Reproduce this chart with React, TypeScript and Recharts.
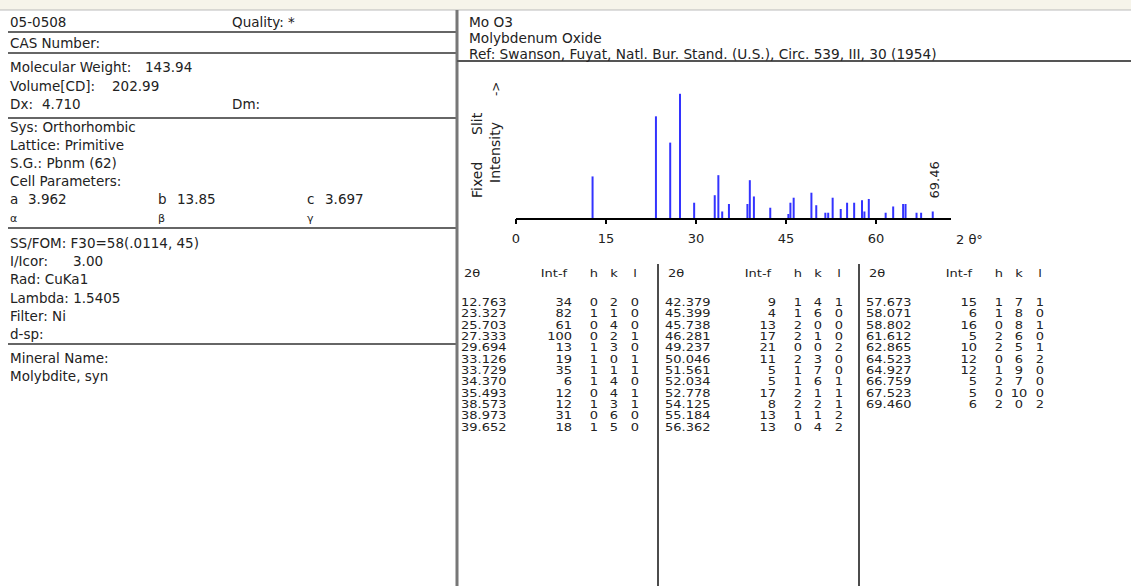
import { Bar, BarChart, LabelList, XAxis, YAxis } from 'recharts';

// Mo O3 powder pattern, card 05-0508
const twoTheta = [
  12.763, 23.327, 25.703, 27.333, 29.694, 33.126, 33.729, 34.37, 35.493, 38.573, 38.973, 39.652,
  42.379, 45.399, 45.738, 46.281, 49.237, 50.046, 51.561, 52.034, 52.778, 54.125, 55.184, 56.362,
  57.673, 58.071, 58.802, 61.612, 62.865, 64.523, 64.927, 66.759, 67.523, 69.46,
];
const intensity = [
  34, 82, 61, 100, 13, 19, 35, 6, 12, 12, 31, 18,
  9, 4, 13, 17, 21, 11, 5, 5, 17, 8, 13, 13,
  15, 6, 16, 5, 10, 12, 12, 5, 5, 6,
];
const hIdx = [0, 1, 0, 0, 1, 1, 1, 1, 0, 1, 0, 1, 1, 1, 2, 2, 0, 2, 1, 1, 2, 2, 1, 0, 1, 1, 0, 2, 2, 0, 1, 2, 0, 2];
const kIdx = [2, 1, 4, 2, 3, 0, 1, 4, 4, 3, 6, 5, 4, 6, 0, 1, 0, 3, 7, 6, 1, 2, 1, 4, 7, 8, 8, 6, 5, 6, 9, 7, 10, 0];
const lIdx = [0, 0, 0, 1, 0, 1, 1, 0, 1, 1, 0, 0, 1, 0, 0, 0, 2, 0, 0, 1, 1, 1, 2, 2, 1, 0, 1, 0, 1, 2, 0, 0, 0, 2];
const xTicks = [0, 15, 30, 45, 60];
const rowsPerColumn = 12;

const cardLeft: [string, string, number][] = [
  ['05-0508', '', 27],
  ['CAS Number:', '', 48],
  ['Molecular Weight:', '143.94', 72],
  ['Volume[CD]:', '202.99', 91],
  ['Dx:', '4.710', 109],
  ['Sys: Orthorhombic', '', 132],
  ['Lattice: Primitive', '', 150],
  ['S.G.: Pbnm (62)', '', 168],
  ['Cell Parameters:', '', 186],
  ['SS/FOM: F30=58(.0114, 45)', '', 248],
  ['I/Icor:', '3.00', 266],
  ['Rad: CuKa1', '', 284],
  ['Lambda: 1.5405', '', 303],
  ['Filter: Ni', '', 321],
  ['d-sp:', '', 339],
  ['Mineral Name:', '', 363],
  ['Molybdite, syn', '', 381],
];
const valueX: Record<string, number> = {
  'Molecular Weight:': 145,
  'Volume[CD]:': 112,
  'Dx:': 42,
  'I/Icor:': 73,
};
const headerRight = ['Mo O3', 'Molybdenum Oxide', 'Ref: Swanson, Fuyat, Natl. Bur. Stand. (U.S.), Circ. 539, III, 30 (1954)'];

const FONT = 'DejaVu Sans';
const INK = '#222';
const STRETCH = 1.3; // table glyphs are wide and short

const data = twoTheta.map((t, i) => ({ theta: t, intensity: intensity[i] }));
const lastIndex = data.length - 1;

function PeakLabel(props: any) {
  const { x, y, width, index } = props;
  if (index !== lastIndex) return null;
  const cx = Number(x) + Number(width) / 2 + 6;
  const top = Number(y) - 13;
  return (
    <text transform={`translate(${cx},${top}) rotate(-90)`} fontFamily={FONT} fontSize={13} fill={INK}>
      {twoTheta[index].toFixed(2)}
    </text>
  );
}

function Card() {
  const colX = [461, 665, 866];
  const rowY = (r: number) => 306 + r * 11.35;
  const sx = (v: number) => v / STRETCH;
  const t = { fontFamily: FONT, fontSize: 13.5, fill: INK };
  const s = { fontFamily: FONT, fontSize: 10, fill: INK };
  return (
    <svg width={1131} height={586} style={{ position: 'absolute', left: 0, top: 0 }}>
      <rect x={0} y={0} width={1131} height={10} fill="#f6f4ea" />
      <line x1={0} x2={1131} y1={10} y2={10} stroke="#bbb" />
      {/* left panel */}
      {[32, 53, 118, 228, 344].map((y) => (
        <line key={y} x1={8} x2={457} y1={y} y2={y} stroke="#333" strokeWidth={1.5} />
      ))}
      <line x1={457} x2={457} y1={10} y2={586} stroke="#777" strokeWidth={3} />
      <line x1={457} x2={1131} y1={61} y2={61} stroke="#555" strokeWidth={2} />
      {cardLeft.map(([label, value, y]) => (
        <g key={label}>
          <text x={10} y={y} {...t}>{label}</text>
          {value && <text x={valueX[label]} y={y} {...t}>{value}</text>}
        </g>
      ))}
      <text x={232} y={27} {...t}>Quality: *</text>
      <text x={232} y={109} {...t}>Dm:</text>
      <text x={10} y={204} {...t}>a</text>
      <text x={28} y={204} {...t}>3.962</text>
      <text x={158} y={204} {...t}>b</text>
      <text x={177} y={204} {...t}>13.85</text>
      <text x={307} y={204} {...t}>c</text>
      <text x={325} y={204} {...t}>3.697</text>
      <text x={10} y={222} {...t} fontSize={11}>α</text>
      <text x={158} y={222} {...t} fontSize={11}>β</text>
      <text x={307} y={222} {...t} fontSize={11}>γ</text>
      {/* right header */}
      {headerRight.map((h, i) => (
        <text key={h} x={469} y={27 + i * 16} {...t} fontSize={13.7}>{h}</text>
      ))}
      {/* y label */}
      <text transform="translate(482,198) rotate(-90)" fontFamily={FONT} fontSize={14} fill={INK}>Fixed</text>
      <text transform="translate(482,135) rotate(-90)" fontFamily={FONT} fontSize={14} fill={INK}>Slit</text>
      <text transform="translate(500,183) rotate(-90)" fontFamily={FONT} fontSize={14} fill={INK}>Intensity</text>
      <text transform="translate(500,96) rotate(-90)" fontFamily={FONT} fontSize={12} fill={INK}>-&gt;</text>
      <text x={956} y={244} fontFamily={FONT} fontSize={13} fill={INK}>2 θ°</text>
      {/* peak table */}
      {[658, 859].map((x) => (
        <line key={x} x1={x} x2={x} y1={264} y2={586} stroke="#111" strokeWidth={1.5} />
      ))}
      {colX.map((cx, c) => (
        <g key={cx} transform={`translate(${cx},0) scale(${STRETCH},1)`}>
          <text x={sx(3)} y={277} {...s}>2θ</text>
          <text x={sx(93)} y={277} textAnchor="middle" {...s}>Int-f</text>
          <text x={sx(133)} y={277} textAnchor="middle" {...s}>h</text>
          <text x={sx(153)} y={277} textAnchor="middle" {...s}>k</text>
          <text x={sx(174)} y={277} textAnchor="middle" {...s}>l</text>
          {twoTheta.slice(c * rowsPerColumn, (c + 1) * rowsPerColumn).map((v, r) => {
            const i = c * rowsPerColumn + r;
            const y = rowY(r);
            return (
              <g key={i}>
                <text x={0} y={y} {...s}>{v.toFixed(3)}</text>
                <text x={sx(111)} y={y} textAnchor="end" {...s}>{intensity[i]}</text>
                <text x={sx(133)} y={y} textAnchor="middle" {...s}>{hIdx[i]}</text>
                <text x={sx(153)} y={y} textAnchor="middle" {...s}>{kIdx[i]}</text>
                <text x={sx(174)} y={y} textAnchor="middle" {...s}>{lIdx[i]}</text>
              </g>
            );
          })}
        </g>
      ))}
    </svg>
  );
}

export default function App() {
  return (
    <div style={{ position: 'absolute', left: 0, top: 0, width: 1131, height: 586, background: '#fff' }}>
      <Card />
      <div style={{ position: 'absolute', left: 0, top: 0 }}>
        <BarChart width={1131} height={586} data={data} margin={{ top: 75, right: 180, bottom: 337, left: 516 }}>
          <XAxis
            dataKey="theta"
            type="number"
            domain={[0, 72.5]}
            allowDataOverflow
            ticks={xTicks}
            interval={0}
            height={30}
            axisLine={{ stroke: '#000', strokeWidth: 2 }}
            tickLine={{ stroke: '#000', strokeWidth: 2 }}
            tickSize={5}
            tickMargin={10}
            tick={{ fontFamily: FONT, fontSize: 13, fill: INK }}
          />
          <YAxis
            type="number"
            domain={[0, 115]}
            allowDataOverflow
            width={0}
            tick={false}
            tickLine={false}
            axisLine={{ stroke: '#000', strokeWidth: 2 }}
          />
          <Bar dataKey="intensity" fill="#3333ff" barSize={2} isAnimationActive={false}>
            <LabelList dataKey="intensity" content={<PeakLabel />} />
          </Bar>
        </BarChart>
      </div>
    </div>
  );
}
